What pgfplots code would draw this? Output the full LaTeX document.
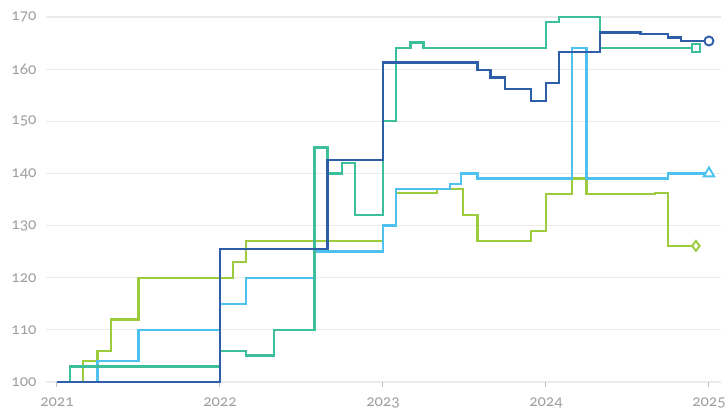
\documentclass[border=0pt]{standalone}
\usepackage{pgfplots}
\pgfplotsset{compat=1.18}
\usepackage{fontspec}
\setmainfont[Numbers=OldStyle]{Carlito}
\definecolor{cdark}{HTML}{2F5EA8}
\definecolor{cteal}{HTML}{3EBF9C}
\definecolor{clight}{HTML}{4FC1EE}
\definecolor{cgreen}{HTML}{9CCB3E}
\definecolor{cgrid}{HTML}{EBEBEB}
\definecolor{clabel}{HTML}{A0A0A0}
\begin{document}
\begin{tikzpicture}
\useasboundingbox (0,0) rectangle (728bp,414bp);
\begin{axis}[
  at={(46bp,32bp)}, anchor=south west,
  scale only axis, width=675bp, height=365bp,
  xmin=2020.933, xmax=2025.074, ymin=100, ymax=170,
  clip=false,
  axis x line*=bottom, axis y line*=left,
  axis line style={draw=none},
  xtick={2021,2022,2023,2024,2025},
  ytick={100,110,...,170},
  ymajorgrids, grid style={color=cgrid, line width=1.2bp},
  tick align=outside, major tick length=5bp,
  xtick style={color=clabel!70, line width=1bp},
  ytick style={draw=none},
  x tick label style={/pgf/number format/1000 sep={}, yshift=-7bp},
  /pgf/number format/1000 sep={},
  /pgf/number format/assume math mode=true,
  tick label style={font=\fontsize{16.5}{18}\selectfont, color=clabel},
  y tick label style={xshift=-1bp},
  every axis plot/.append style={const plot, line width=2.4bp},
]
\addplot[color=cgreen, mark=diamond*, mark options={fill=white, solid, line width=1.9bp}, mark size=5bp, mark indices={19}] coordinates {
(2021,100) (2021.16,104) (2021.25,106) (2021.33,112) (2021.5,120) (2022.08,123) (2022.16,127) (2023.0,130) (2023.08,136.2) (2023.33,137) (2023.49,132) (2023.58,127) (2023.91,129) (2024.0,136) (2024.16,139) (2024.25,136) (2024.67,136.3) (2024.75,126.1) (2024.92,126.1)
};
\addplot[color=clight, mark=triangle*, mark options={fill=white, solid, line width=1.9bp}, mark size=6bp, mark indices={15}] coordinates {
(2021,100) (2021.25,104) (2021.5,110) (2022,115) (2022.16,120) (2022.58,125) (2023.0,130) (2023.08,137) (2023.41,138) (2023.48,140) (2023.58,139) (2024.16,164) (2024.25,139) (2024.75,140) (2025,140)
};
\addplot[color=cteal, mark=square*, mark options={fill=white, solid, line width=1.9bp}, mark size=4bp, mark indices={17}] coordinates {
(2021,100) (2021.08,103) (2022,106) (2022.16,105.1) (2022.33,110) (2022.58,145) (2022.66,140) (2022.75,142) (2022.83,132) (2023.0,150) (2023.08,164) (2023.17,165.1) (2023.25,164) (2024.0,169) (2024.08,170) (2024.33,164) (2024.92,164)
};
\addplot[color=cdark, mark=*, mark options={fill=white, solid, line width=1.9bp}, mark size=4.5bp, mark indices={15}] coordinates {
(2021,100) (2022,125.5) (2022.66,142.6) (2023.0,161.3) (2023.58,159.8) (2023.66,158.4) (2023.75,156.2) (2023.91,153.9) (2024.0,157.3) (2024.08,163.3) (2024.33,167) (2024.58,166.7) (2024.75,166.1) (2024.83,165.4) (2025,165.4)
};
\end{axis}
\end{tikzpicture}
\end{document}
